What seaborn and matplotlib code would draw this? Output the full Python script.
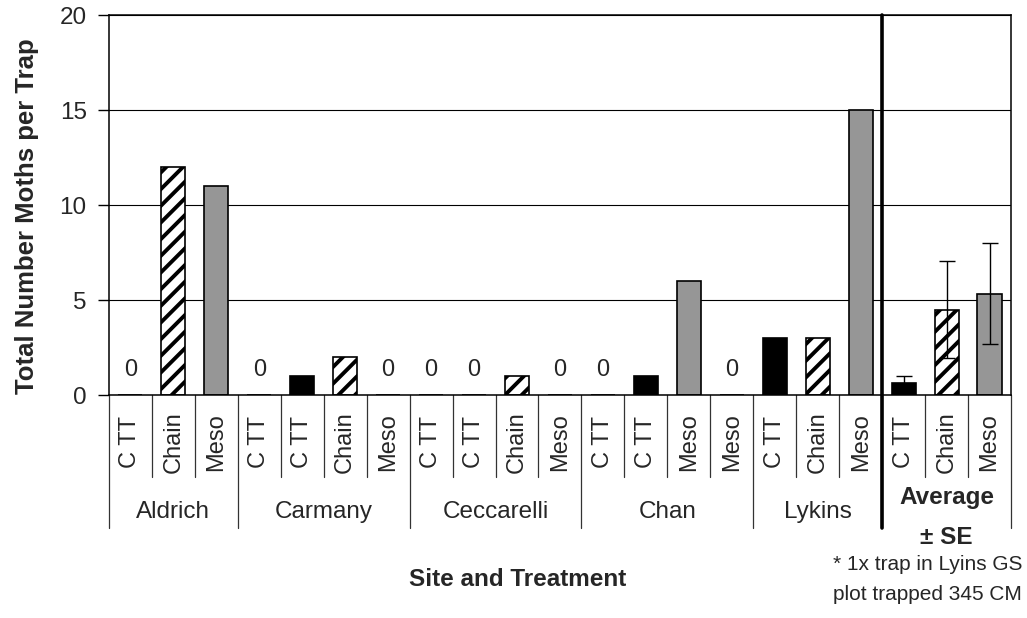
import pandas as pd
import matplotlib.pyplot as plt
import seaborn as sns

# data
sites = ["Aldrich", "Carmany", "Ceccarelli", "Chan", "Lykins", "Average\n± SE"]
site_sizes = [3, 4, 4, 4, 3, 3]
treatments = ["C TT", "Chain", "Meso",
              "C TT", "C TT", "Chain", "Meso",
              "C TT", "C TT", "Chain", "Meso",
              "C TT", "C TT", "Meso", "Meso",
              "C TT", "Chain", "Meso",
              "C TT", "Chain", "Meso"]
moths = [0, 12, 11,
         0, 1, 2, 0,
         0, 0, 1, 0,
         0, 1, 6, 0,
         3, 3, 15,
         0.63, 4.5, 5.33]
avg_se = [0.37, 2.55, 2.65]

treat_colors = {"C TT": "black", "Chain": "white", "Meso": "#969696"}

df = pd.DataFrame({"slot": [f"s{i}" for i in range(len(treatments))],
                   "treatment": treatments,
                   "moths": moths})

sns.set_style("ticks")
plt.rcParams["font.family"] = ["Liberation Sans", "DejaVu Sans"]
plt.rcParams["hatch.linewidth"] = 2.8

fig = plt.figure(figsize=(10.27, 6.18), dpi=100)
ax = fig.add_axes([0.1061, 0.3608, 0.8783, 0.6149])

sns.barplot(data=df, x="slot", y="moths", hue="slot",
            palette=[treat_colors[t] for t in treatments], legend=False,
            width=0.56, edgecolor="black", linewidth=1.2, saturation=1,
            errorbar=None, ax=ax)

for patch, t in zip(ax.patches, treatments):
    if t == "Chain":
        patch.set_hatch("//")

# error bars for the averages
n_avg = len(avg_se)
avg_x = list(range(len(moths) - n_avg, len(moths)))
ax.errorbar(avg_x, moths[-n_avg:], yerr=avg_se, fmt="none",
            ecolor="black", elinewidth=1, capsize=5.5, capthick=1)

# zero labels
for i, v in enumerate(moths):
    if v == 0:
        ax.text(i, 1.3, "0", ha="center", va="center", fontsize=17)

ax.set_xlim(-0.5, len(moths) - 0.5)
ax.set_ylim(0, 20)
ax.set_yticks([0, 5, 10, 15, 20])
ax.tick_params(axis="y", labelsize=17.5, length=8, width=1, pad=8, color="black")
ax.set_xticks(range(len(treatments)))
ax.set_xticklabels(treatments, rotation=90, va="center", fontsize=17)
ax.tick_params(axis="x", length=0, pad=34)
ax.set_xlabel("")
ax.set_ylabel("")
ax.yaxis.grid(True, color="black", linewidth=0.8)
ax.set_axisbelow(True)
for s in ax.spines.values():
    s.set_color("black")
    s.set_linewidth(1.1)

# separators under the axis
trans = ax.get_xaxis_transform()
bounds = [0]
for n in site_sizes:
    bounds.append(bounds[-1] + n)
for b in range(len(moths) + 1):
    low = -0.35 if b in bounds else -0.216
    ax.plot([b - 0.5, b - 0.5], [0, low], transform=trans, clip_on=False,
            color="#333333", linewidth=0.9)
ax.plot([bounds[-2] - 0.5] * 2, [1, -0.35], transform=trans, clip_on=False,
        color="black", linewidth=2.6)

# site labels
for k, name in enumerate(sites):
    cx = (bounds[k] + bounds[k + 1] - 1) / 2
    if k == len(sites) - 1:
        ax.text(cx, -0.322, name, transform=trans, ha="center", va="center",
                fontsize=17.5, fontweight="bold", linespacing=1.95)
    else:
        ax.text(cx, -0.308, name, transform=trans, ha="center", va="center",
                fontsize=17.5)

fig.text(27 / 1027, 1 - 216 / 618, "Total Number Moths per Trap", rotation=90,
         ha="center", va="center", fontsize=18.5, fontweight="bold")
fig.text(518 / 1027, 1 - 580 / 618, "Site and Treatment",
         ha="center", va="center", fontsize=17.5, fontweight="bold")
fig.text(833 / 1027, 1 - 564 / 618, "* 1x trap in Lyins GS",
         ha="left", va="center", fontsize=15)
fig.text(833 / 1027, 1 - 594 / 618, "plot trapped 345 CM",
         ha="left", va="center", fontsize=15)

fig.savefig("out.png", dpi=100)
